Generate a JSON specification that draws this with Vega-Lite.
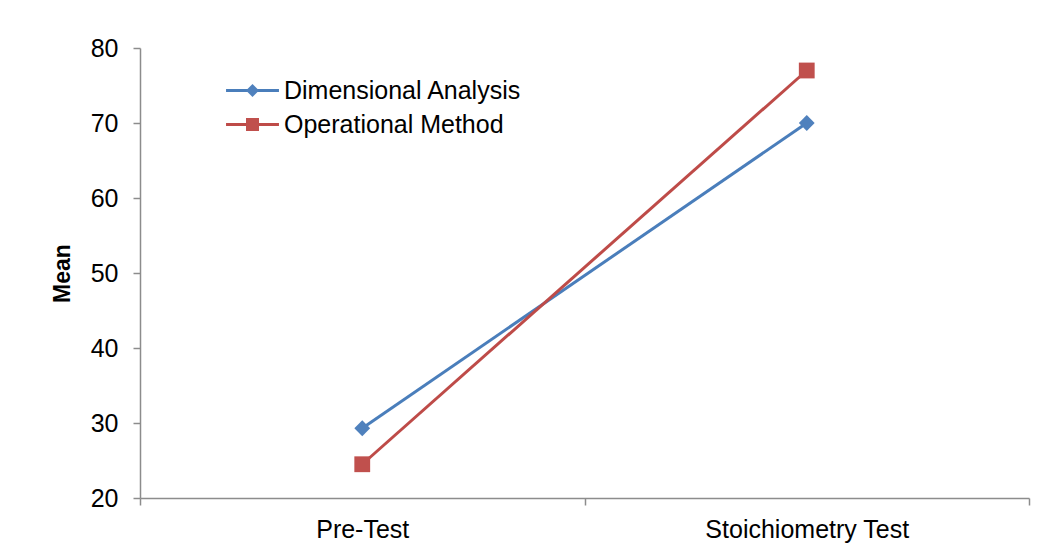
{
  "$schema": "https://vega.github.io/schema/vega-lite/v6.json",
  "width": 889,
  "height": 450,
  "autosize": {"type": "none"},
  "padding": {"left": 140, "top": 48, "right": 21, "bottom": 61},
  "background": "white",
  "config": {
    "font": "Liberation Sans",
    "view": {"stroke": null},
    "axis": {"grid": false, "domainColor": "#8c8c8c", "tickColor": "#8c8c8c", "domainWidth": 1.5, "tickWidth": 1.5, "labelColor": "#000000", "labelFontSize": 25, "labelFont": "Liberation Sans", "labelLimit": 400}
  },
  "data": {
    "values": [
      {"test": "Pre-Test", "method": "Dimensional Analysis", "mean": 29.3},
      {"test": "Stoichiometry Test", "method": "Dimensional Analysis", "mean": 70.0},
      {"test": "Pre-Test", "method": "Operational Method", "mean": 24.5},
      {"test": "Stoichiometry Test", "method": "Operational Method", "mean": 77.0}
    ]
  },
  "encoding": {
    "x": {
      "field": "test", "type": "nominal", "sort": ["Pre-Test", "Stoichiometry Test"],
      "scale": {"type": "band", "paddingInner": 0, "paddingOuter": 0},
      "axis": {"title": null, "labelAngle": 0, "tickBand": "extent", "tickSize": 7, "labelPadding": 12, "labelLimit": 400}
    },
    "y": {
      "field": "mean", "type": "quantitative",
      "scale": {"domain": [20, 80], "nice": false, "zero": false},
      "axis": {"title": "Mean", "values": [20, 30, 40, 50, 60, 70, 80], "tickSize": 7, "labelPadding": 15, "titleFontSize": 23, "titleFontWeight": "bold", "titleColor": "#000000", "titlePadding": 16, "titleFont": "Liberation Sans"}
    },
    "color": {
      "field": "method", "type": "nominal",
      "scale": {"domain": ["Dimensional Analysis", "Operational Method"], "range": ["#4A7EBB", "#BE4B48"]}
    }
  },
  "layer": [
    {
      "mark": {"type": "line", "strokeWidth": 3},
      "encoding": {
        "color": {
          "field": "method", "type": "nominal",
          "legend": {"orient": "none", "legendX": 100, "legendY": 30, "title": null, "symbolType": "M-5,0H5", "symbolSize": 112, "symbolStrokeWidth": 3, "labelFontSize": 25, "labelFont": "Liberation Sans", "labelColor": "#000000", "labelOffset": 19, "rowPadding": 8, "labelLimit": 400}
        }
      }
    },
    {
      "mark": {"type": "point", "filled": true, "opacity": 1},
      "encoding": {
        "shape": {
          "field": "method", "type": "nominal",
          "scale": {"domain": ["Dimensional Analysis", "Operational Method"], "range": ["diamond", "square"]}
        },
        "size": {"value": 250},
        "color": {
          "field": "method", "type": "nominal",
          "scale": {"domain": ["Dimensional Analysis", "Operational Method"], "range": ["#4F81BD", "#C0504D"]},
          "legend": {"orient": "none", "legendX": 100, "legendY": 30, "title": null, "symbolSize": 170, "symbolOpacity": 1, "labelFontSize": 25, "labelFont": "Liberation Sans", "labelColor": "transparent", "labelOffset": 19, "rowPadding": 8, "labelLimit": 400}
        }
      }
    }
  ],
  "resolve": {"scale": {"color": "independent"}, "legend": {"color": "independent", "shape": "independent"}}
}
